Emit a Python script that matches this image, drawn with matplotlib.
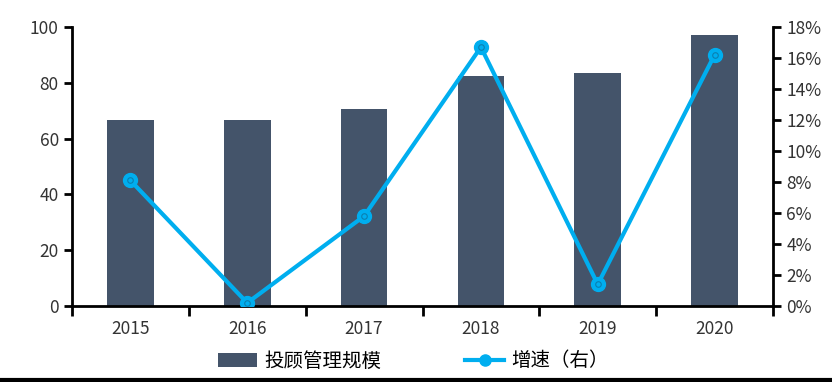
import matplotlib
matplotlib.use("Agg")
import matplotlib.pyplot as plt
from matplotlib.lines import Line2D
from matplotlib.ticker import FuncFormatter, MultipleLocator

plt.rcParams['font.family'] = ['Noto Sans CJK SC', 'DejaVu Sans']
plt.rcParams['font.weight'] = 'light'

years = ['2015', '2016', '2017', '2018', '2019', '2020']
scale = [66.7, 66.7, 70.6, 82.4, 83.5, 97.1]
growth = [8.1, 0.2, 5.8, 16.7, 1.4, 16.2]

bar_color = '#44546A'
line_color = '#00AEEF'

fig = plt.figure(figsize=(8.32, 3.82), dpi=100)
ax = fig.add_axes([72/832, 1 - 306/382, (773-72)/832, (306-27)/382])
x = list(range(len(years)))
ax.bar(x, scale, width=0.4, color=bar_color, label='投顾管理规模', zorder=2)
ax.set_xlim(-0.5, 5.5)
ax.set_ylim(0, 100)
ax.yaxis.set_major_locator(MultipleLocator(20))
ax.set_xticks([i + 0.5 for i in range(-1, 6)], minor=False)
ax.set_xticklabels([])
ax.set_xticks(x, minor=True)
ax.set_xticklabels(years, minor=True)
ax.tick_params(axis='x', which='major', direction='out', length=7, width=2, color='black')
ax.tick_params(axis='x', which='minor', length=0, pad=10, labelsize=12.5, labelcolor='#333333')
ax.tick_params(axis='y', direction='out', length=6, width=2, labelsize=12.5, labelcolor='#333333')
for s in ['top', 'right']:
    ax.spines[s].set_visible(False)
for s in ['left', 'bottom']:
    ax.spines[s].set_linewidth(2)
    ax.spines[s].set_color('black')

ax2 = ax.twinx()
ax2.plot(x, growth, color=line_color, linewidth=3, marker='o', markersize=10,
         markerfacecolor=line_color, markeredgecolor=line_color, label='增速（右）', zorder=3)
ax2.plot(x, growth, linestyle='none', marker='o', markersize=4,
         markerfacecolor='none', markeredgecolor='#0a7fb0', markeredgewidth=0.8, zorder=4)
ax2.set_ylim(0, 18)
ax2.yaxis.set_major_locator(MultipleLocator(2))
ax2.yaxis.set_major_formatter(FuncFormatter(lambda v, p: f'{v:.0f}%'))
ax2.tick_params(axis='y', direction='out', length=6, width=2, labelsize=12.5, labelcolor='#333333')
for s in ['top', 'left', 'bottom']:
    ax2.spines[s].set_visible(False)
ax2.spines['right'].set_linewidth(2)
ax2.spines['right'].set_color('black')

h1, l1 = ax.get_legend_handles_labels()
h2 = [Line2D([0], [0], color=line_color, linewidth=3, marker='o', markersize=8,
             markerfacecolor=line_color, markeredgecolor=line_color)]
fig.legend(h1 + h2, l1 + ['增速（右）'], loc='center', bbox_to_anchor=(0.497, 1 - 361/382),
           ncol=2, frameon=False, fontsize=14, columnspacing=4.3, handlelength=2.0,
           handletextpad=0.4)

fig.add_artist(Line2D([0, 1], [0.004, 0.004], color='black', linewidth=3, transform=fig.transFigure))

fig.savefig('out.png', dpi=100)
